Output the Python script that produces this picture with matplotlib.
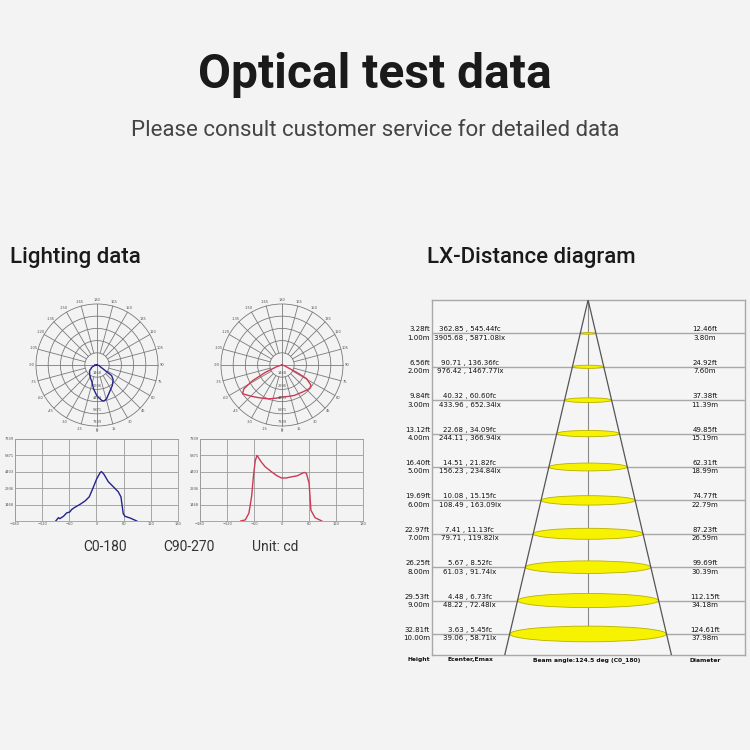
import numpy as np
import matplotlib.pyplot as plt
from matplotlib.patches import Ellipse, Circle
from matplotlib.transforms import blended_transform_factory

# ---- data ----
c0_angles = [-90, -84, -81, -73, -66, -59, -55, -50, -36, -25, -16, -8, 0, 8, 11, 16, 26, 37, 48, 54, 59, 63, 74, 89]
c0_cd = [0, 300, 210, 420, 720, 810, 1020, 1170, 1500, 1800, 2165, 2920, 3730, 4330, 4420, 4210, 3520, 3070, 2615, 2165, 660, 420, 270, 0]

c90_angles = [-90, -80, -72, -66, -62, -58, -54, -45, -36, -22, -10, 0, 10, 22, 35, 45, 50, 55, 61, 63, 65, 74, 89]
c90_cd = [0, 100, 700, 2200, 4000, 5400, 5871, 5300, 4850, 4400, 4050, 3850, 3850, 3950, 4050, 4250, 4350, 4270, 3370, 2165, 960, 300, 0]

cd_ticks = [1468, 2936, 4403, 5871, 7339]
angle_ticks = [-180, -120, -60, 0, 60, 120, 180]

dist_m = [1, 2, 3, 4, 5, 6, 7, 8, 9, 10]
dist_ft = ['3.28ft', '6.56ft', '9.84ft', '13.12ft', '16.40ft', '19.69ft', '22.97ft', '26.25ft', '29.53ft', '32.81ft']
e_fc = ['362.85 , 545.44fc', '90.71 , 136.36fc', '40.32 , 60.60fc', '22.68 , 34.09fc', '14.51 , 21.82fc',
        '10.08 , 15.15fc', '7.41 , 11.13fc', '5.67 , 8.52fc', '4.48 , 6.73fc', '3.63 , 5.45fc']
e_lx = ['3905.68 , 5871.08lx', '976.42 , 1467.77lx', '433.96 , 652.34lx', '244.11 , 366.94lx', '156.23 , 234.84lx',
        '108.49 , 163.09lx', '79.71 , 119.82lx', '61.03 , 91.74lx', '48.22 , 72.48lx', '39.06 , 58.71lx']
diam_ft = ['12.46ft', '24.92ft', '37.38ft', '49.85ft', '62.31ft', '74.77ft', '87.23ft', '99.69ft', '112.15ft', '124.61ft']
diam_m = [3.80, 7.60, 11.39, 15.19, 18.99, 22.79, 26.59, 30.39, 34.18, 37.98]

BG = '#f3f3f3'
W = H = 750


def box(x0, y0, x1, y1):
    return [x0 / W, 1 - y1 / H, (x1 - x0) / W, (y1 - y0) / H]


fig = plt.figure(figsize=(7.5, 7.5), dpi=100, facecolor=BG)

# text layer in pixel coordinates
ax0 = fig.add_axes([0, 0, 1, 1])
ax0.set_xlim(0, W)
ax0.set_ylim(H, 0)
ax0.axis('off')

ax0.text(375, 75, 'Optical test data', ha='center', va='center', fontsize=34.5,
         fontweight='bold', family='Roboto', color='#1a1a1a')
ax0.text(375, 131, 'Please consult customer service for detailed data', ha='center', va='center',
         fontsize=16, family='Roboto', color='#444444')
ax0.text(10, 258, 'Lighting data', ha='left', va='center', fontsize=16,
         fontweight='medium', family='Roboto', color='#1a1a1a')
ax0.text(531, 258, 'LX-Distance diagram', ha='center', va='center', fontsize=16,
         fontweight='medium', family='Roboto', color='#1a1a1a')
for x, s in [(105, 'C0-180'), (189, 'C90-270'), (275, 'Unit: cd')]:
    ax0.text(x, 547, s, ha='center', va='center', fontsize=10, family='Roboto', color='#333333')


# ---- polar (photometric) plots ----
def polar_plot(cx, cy, angles, cd, color):
    rmax = cd_ticks[-1]
    r_px = 61
    half = 75
    ax = fig.add_axes(box(cx - half, cy - half, cx + half, cy + half))
    lim = rmax * half / r_px
    ax.set_xlim(-lim, lim)
    ax.set_ylim(-lim, lim)
    ax.set_aspect('equal')
    ax.axis('off')
    ax.patch.set_alpha(0)
    for r in cd_ticks:
        ax.add_patch(Circle((0, 0), r, fill=False, ec='#7a7a7a', lw=0.6))
    for a in range(-180, 180, 15):
        t = np.radians(a)
        r0 = 0 if a % 90 == 0 else cd_ticks[0]
        ax.plot([r0 * np.sin(t), rmax * np.sin(t)], [-r0 * np.cos(t), -rmax * np.cos(t)],
                color='#7a7a7a', lw=0.6)
    for a in range(-165, 181, 15):
        rr = 1.09 if abs(a) == 15 else 1.07
        t = np.radians(a)
        ax.text(rmax * rr * np.sin(t), -rmax * rr * np.cos(t), str(a), fontsize=2.6,
                color='#555555', ha='center', va='center')
    ax.text(0, -rmax * 1.085, '0', fontsize=2.6, color='#555555', ha='center', va='center')
    for r in cd_ticks:
        ax.text(0, -r + 450, str(r), fontsize=2.6, color='#555555', ha='center', va='center')
    t = np.radians(angles)
    r = np.array(cd)
    ax.plot(r * np.sin(t), -r * np.cos(t), color=color, lw=1.0)


polar_plot(97, 365, c0_angles, c0_cd, '#23238c')
polar_plot(282, 365, c90_angles, c90_cd, '#cc3a55')


# ---- linear intensity plots ----
def line_plot(x0, angles, cd, color):
    ax = fig.add_axes(box(x0, 439, x0 + 163, 521))
    ax.set_facecolor(BG)
    ax.plot(angles, cd, color=color, lw=1.0)
    ax.set_xlim(-180, 180)
    ax.set_ylim(0, cd_ticks[-1])
    ax.set_xticks(angle_ticks)
    ax.set_yticks(cd_ticks)
    ax.grid(True, color='#9a9a9a', lw=0.6)
    ax.tick_params(length=0, labelsize=2.6, labelcolor='#555555', pad=1)
    for s in ax.spines.values():
        s.set_color('#9a9a9a')
        s.set_linewidth(0.6)


line_plot(15, c0_angles, c0_cd, '#23238c')
line_plot(200, c90_angles, c90_cd, '#cc3a55')


# ---- LX-distance diagram ----
axd = fig.add_axes(box(432, 300, 745, 655))
axd.set_facecolor('#f5f5f5')
xlo, xhi = -37.8, 38.0
ybot = 10.63
axd.set_xlim(xlo, xhi)
axd.set_ylim(ybot, 0)
axd.set_xticks([])
axd.set_yticks([])
for s in axd.spines.values():
    s.set_color('#a8a8a8')
    s.set_linewidth(1.0)

# pixel scale ratio so ellipses look like the drawing
xs = 313 / (xhi - xlo)
ys = 355 / ybot
for d in dist_m:
    axd.axhline(d, color='#a8a8a8', lw=1.0, zorder=1)
axd.plot([0, 0], [0, dist_m[-1]], color='#8a8a8a', lw=0.8, zorder=2)
for d, dm in zip(dist_m, diam_m):
    h = 0.1 * dm * xs / ys
    axd.add_patch(Ellipse((0, d), dm, h, fc='#f7f200', ec='#b8b000', lw=0.6, zorder=3))
slope = (diam_m[-1] / 2) / dist_m[-1]
axd.plot([-slope * ybot, 0, slope * ybot], [ybot, 0, ybot], color='#555555', lw=0.9, zorder=4)

tr = blended_transform_factory(axd.transAxes, axd.transData)
fs = 5.0
tc = '#111111'
for d, ft, fc, lx, dft, dm in zip(dist_m, dist_ft, e_fc, e_lx, diam_ft, diam_m):
    axd.text(-0.006, d - 0.12, ft, transform=tr, ha='right', va='center', fontsize=fs, color=tc, clip_on=False)
    axd.text(-0.006, d + 0.13, '%.2fm' % d, transform=tr, ha='right', va='center', fontsize=fs, color=tc, clip_on=False)
    axd.text(0.121, d - 0.12, fc, transform=tr, ha='center', va='center', fontsize=fs, color=tc)
    axd.text(0.121, d + 0.13, lx, transform=tr, ha='center', va='center', fontsize=fs, color=tc)
    axd.text(0.872, d - 0.12, dft, transform=tr, ha='center', va='center', fontsize=fs, color=tc)
    axd.text(0.872, d + 0.13, '%.2fm' % dm, transform=tr, ha='center', va='center', fontsize=fs, color=tc)

for x, s in [(419, 'Height'), (470, 'Ecenter,Emax'), (587, 'Beam angle:124.5 deg (C0_180)'), (705, 'Diameter')]:
    ax0.text(x, 660, s, ha='center', va='center', fontsize=4.3, color=tc, fontweight='bold')

fig.savefig('out.png', dpi=100, facecolor=BG)
